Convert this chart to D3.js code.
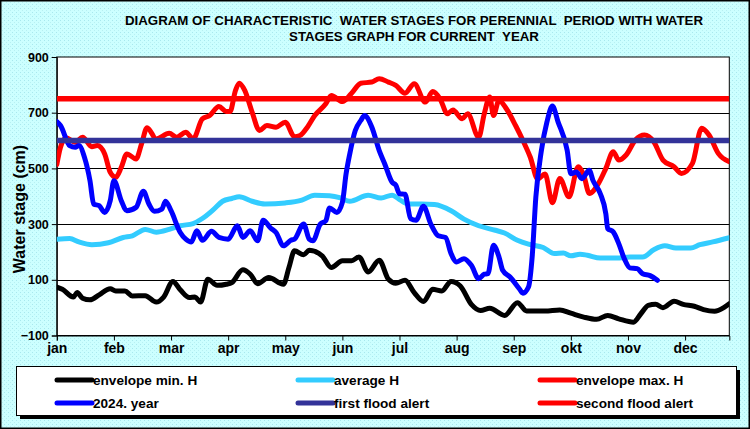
<!DOCTYPE html>
<html>
<head>
<meta charset="utf-8">
<script src="https://cdn.jsdelivr.net/npm/d3@7/dist/d3.min.js"></script>
<style>
html,body{margin:0;padding:0;background:#fff;}
svg{display:block;}
</style>
</head>
<body>
<svg id="chart" width="750" height="429"></svg>
<script>
// ---------- DATA ----------
const titleLines = ["DIAGRAM OF CHARACTERISTIC  WATER STAGES FOR PERENNIAL  PERIOD WITH WATER",
                    "STAGES GRAPH FOR CURRENT  YEAR"];
const months = ["jan","feb","mar","apr","may","jun","jul","aug","sep","okt","nov","dec"];
const yTicks = [-100, 100, 300, 500, 700, 900];
const gridValues = [100, 300, 500, 700];

// [day of year, water stage cm]
const minH = [[0,74],[3,66],[9,38],[11,54],[14,34],[18,28],[23,46],[29,68],[32,60],[37,60],[41,42],[48,43],[54,20],[58,38],[63,94],[67,64],[72,36],[75,38],[78,20],[82,102],[87,80],[92,84],
  [95,90],[101,136],[105,120],[109,86],[115,108],[123,84],[126,144],[129,204],[134,190],[137,206],[144,186],[149,144],[155,168],[160,168],[164,182],[169,128],[175,170],[180,102],[184,88],
  [189,98],[194,54],[199,22],[204,66],[209,60],[214,94],[219,78],[225,12],[230,-10],[235,-2],[243,-28],[250,18],[255,-12],[265,-12],[273,-8],
  [279,-20],[286,-34],[293,-42],[299,-28],[305,-40],[313,-52],[317,-22],[321,8],[325,12],[329,0],[335,23],[340,12],[346,5],[351,-7],[357,-13],[362,0],[365,14]];

const avgH = [[0,246],[7,248],[12,236],[19,226],[28,233],[36,252],[41,258],[48,281],[54,271],[61,281],[67,294],[74,302],[79,320],[85,352],[90,382],[95,392],
  [99,398],[106,382],[113,372],[124,376],[133,386],[140,404],[148,402],[154,394],[159,382],[169,404],[176,394],[182,404],[186,388],
  [191,372],[198,372],[205,370],[214,348],[221,318],[229,294],[238,278],[243,268],[250,242],[256,228],[264,216],[270,194],[275,196],[279,186],
  [284,192],[288,188],[295,178],[304,178],[311,182],[318,182],[324,208],[330,222],[336,214],[344,214],[349,226],[356,236],[365,251]];

const maxH = [[0,514],[2,576],[5,610],[10,594],[14,612],[19,578],[22,582],[26,552],[29,486],[32,468],[35,504],[38,552],[43,534],[46,588],[49,646],[54,606],[61,626],[65,612],[70,630],[74,606],[79,678],[83,690],[88,722],[92,704],
  [94,704],[97,780],[99,806],[102,780],[106,702],[110,636],[114,654],[119,648],[124,666],[129,614],[132,618],[136,648],[140,690],[146,732],[149,762],[155,740],[160,770],[165,806],[171,810],[175,822],[180,810],[184,798],
  [189,770],[194,804],[200,738],[204,776],[208,750],[212,696],[215,710],[220,678],[223,696],[229,612],[232,696],[235,756],[237,690],[240,744],[244,714],[249,654],[253,600],[257,540],[261,462],[265,480],[269,377],
  [273,464],[278,398],[283,506],[286,476],[289,410],[294,446],[298,500],[302,560],[305,530],[309,548],[314,602],[319,620],[324,596],[329,530],[335,506],[339,482],[345,518],[350,644],[354,620],[359,554],[365,524]];

const year2024 = [[0,668],[2,654],[7,582],[10,576],[12,582],[15,540],[18,456],[20,372],[23,366],[26,342],[29,384],[31,456],[35,384],[38,348],[43,360],[47,418],[50,372],[53,346],[57,354],[59,382],[62,348],[67,270],[70,246],[73,236],[76,276],[79,242],[84,274],[88,252],[93,246],
  [98,294],[101,252],[105,276],[109,240],[112,314],[116,286],[119,270],[123,222],[127,242],[129,246],[134,300],[137,246],[139,240],[143,300],[146,312],[148,358],[152,342],[155,378],[157,480],[159,552],[162,636],[165,672],[167,690],[171,648],[175,564],[178,516],[182,450],[184,440],
  [186,409],[189,407],[192,320],[195,314],[199,364],[203,300],[207,258],[211,252],[214,194],[217,164],[221,176],[225,152],[229,104],[232,120],[234,122],[237,224],[240,182],[242,134],[246,110],[251,68],[253,52],[256,74],[258,182],[260,397],[263,564],[266,666],[269,724],[272,668],
  [277,565],[279,481],[282,487],[285,463],[289,493],[291,457],[295,409],[298,337],[299,284],[302,272],[305,230],[308,176],[311,143],[315,140],[318,122],[322,115],[326,98]];

const firstAlert = 600;
const secondAlert = 750;

const seriesNames = ["envelope min. H","average H","envelope max. H","2024. year","first flood alert","second flood alert"];
const seriesColors = ["#000000","#33CCFF","#FF0000","#0000FF","#333399","#FF0000"];

// ---------- LAYOUT ----------
const W = 750, H = 429;
const plot = {left:56.8, right:729.3, top:57, bottom:335.5};
const svg = d3.select("#chart");

const defs = svg.append("defs");
const pat = defs.append("pattern").attr("id","dots").attr("width",4).attr("height",4).attr("patternUnits","userSpaceOnUse");
pat.append("rect").attr("width",4).attr("height",4).attr("fill","#CCFFFF");
pat.append("rect").attr("x",0).attr("y",0).attr("width",1).attr("height",1).attr("fill","#A8E8EE");
pat.append("rect").attr("x",2).attr("y",2).attr("width",1).attr("height",1).attr("fill","#B8F0F2");

svg.append("rect").attr("x",0).attr("y",0).attr("width",W).attr("height",H).attr("fill","url(#dots)");
svg.append("rect").attr("x",0.75).attr("y",0.75).attr("width",W-1.5).attr("height",H-1.5)
  .attr("fill","none").attr("stroke","#000").attr("stroke-width",1.5);

// scales
const x = d3.scaleLinear().domain([0,365]).range([plot.left, plot.right]);
const y = d3.scaleLinear().domain([-100,900]).range([plot.bottom, plot.top]);

// plot area
svg.append("rect").attr("x",plot.left).attr("y",plot.top).attr("width",plot.right-plot.left).attr("height",plot.bottom-plot.top)
  .attr("fill","#fff").attr("stroke","#000").attr("stroke-width",1);

// gridlines
svg.append("g").selectAll("line").data(gridValues).join("line")
  .attr("x1",plot.left).attr("x2",plot.right)
  .attr("y1",d=>Math.round(y(d))+0.5).attr("y2",d=>Math.round(y(d))+0.5)
  .attr("stroke","#000").attr("stroke-width",1);

// title
const title = svg.append("text").attr("x",414).attr("y",25)
  .attr("text-anchor","middle")
  .style("font-family","'Liberation Sans Narrow','Arial Narrow','Liberation Sans',sans-serif")
  .style("font-weight","bold").style("font-size","13.3px").style("white-space","pre");
titleLines.forEach((t,i)=>{
  title.append("tspan").attr("x",414).attr("dy", i===0?0:16).text(t);
});

// y axis
const yAxis = d3.axisLeft(y).tickValues(yTicks).tickSize(5).tickFormat(d3.format("d"));
const gy = svg.append("g").attr("transform",`translate(${plot.left},0)`).call(yAxis);
gy.select(".domain").attr("stroke","#000");
gy.selectAll("text").style("font-family","'Liberation Sans',Arial,sans-serif").style("font-weight","bold")
  .style("font-size","12.5px").attr("fill","#000").attr("x",-8);
gy.selectAll(".tick line").attr("stroke","#000");

// x axis
const tickDays = months.map((m,i)=>i*31);
const xAxis = d3.axisBottom(x).tickValues(tickDays).tickSize(5).tickFormat((d,i)=>months[i]);
const gx = svg.append("g").attr("transform",`translate(0,${plot.bottom})`).call(xAxis);
gx.select(".domain").attr("stroke","#000");
gx.selectAll(".tick line").attr("stroke","#000");
gx.selectAll("text").style("font-family","'Liberation Sans Narrow','Arial Narrow','Liberation Sans',sans-serif")
  .style("font-weight","bold").style("font-size","14px").attr("fill","#000").attr("dy","0.71em").attr("y",8);

// y label
svg.append("text").attr("transform","translate(25,209) rotate(-90)")
  .attr("text-anchor","middle")
  .style("font-family","'Liberation Sans',Arial,sans-serif").style("font-weight","bold").style("font-size","16px")
  .text("Water stage (cm)");

// lines
const clip = defs.append("clipPath").attr("id","plotclip");
clip.append("rect").attr("x",plot.left).attr("y",plot.top).attr("width",plot.right-plot.left).attr("height",plot.bottom-plot.top);
const lineGen = d3.line().x(d=>x(d[0])).y(d=>y(d[1])).curve(d3.curveMonotoneX);
const g = svg.append("g").attr("clip-path","url(#plotclip)");
[minH, avgH, maxH, year2024].forEach((s,i)=>{
  g.append("path").datum(s).attr("d",lineGen).attr("fill","none")
    .attr("stroke",seriesColors[i]).attr("stroke-width",5)
    .attr("stroke-linejoin","round").attr("stroke-linecap","round");
});
[firstAlert, secondAlert].forEach((v,i)=>{
  g.append("path").datum([[0,v],[365,v]]).attr("d",d3.line().x(d=>x(d[0])).y(d=>y(d[1])))
    .attr("fill","none").attr("stroke",seriesColors[4+i]).attr("stroke-width",5.5);
});

// legend
const lg = svg.append("g");
lg.append("rect").attr("x",20).attr("y",370).attr("width",720).attr("height",49).attr("fill","#000");
lg.append("rect").attr("x",16.5).attr("y",366.5).attr("width",720).attr("height",49).attr("fill","#fff").attr("stroke","#000");
const colX = [57, 298, 540];
const rowY = [380, 403];
seriesNames.forEach((n,i)=>{
  const cx = colX[i%3], cy = rowY[Math.floor(i/3)];
  lg.append("line").attr("x1",cx).attr("x2",cx+35).attr("y1",cy).attr("y2",cy)
    .attr("stroke",seriesColors[i]).attr("stroke-width",5).attr("stroke-linecap","round");
  lg.append("text").attr("x",cx+36).attr("y",cy+5)
    .style("font-family","'Liberation Sans',Arial,sans-serif").style("font-weight","bold").style("font-size","13.6px")
    .text(n);
});
</script>
</body>
</html>
